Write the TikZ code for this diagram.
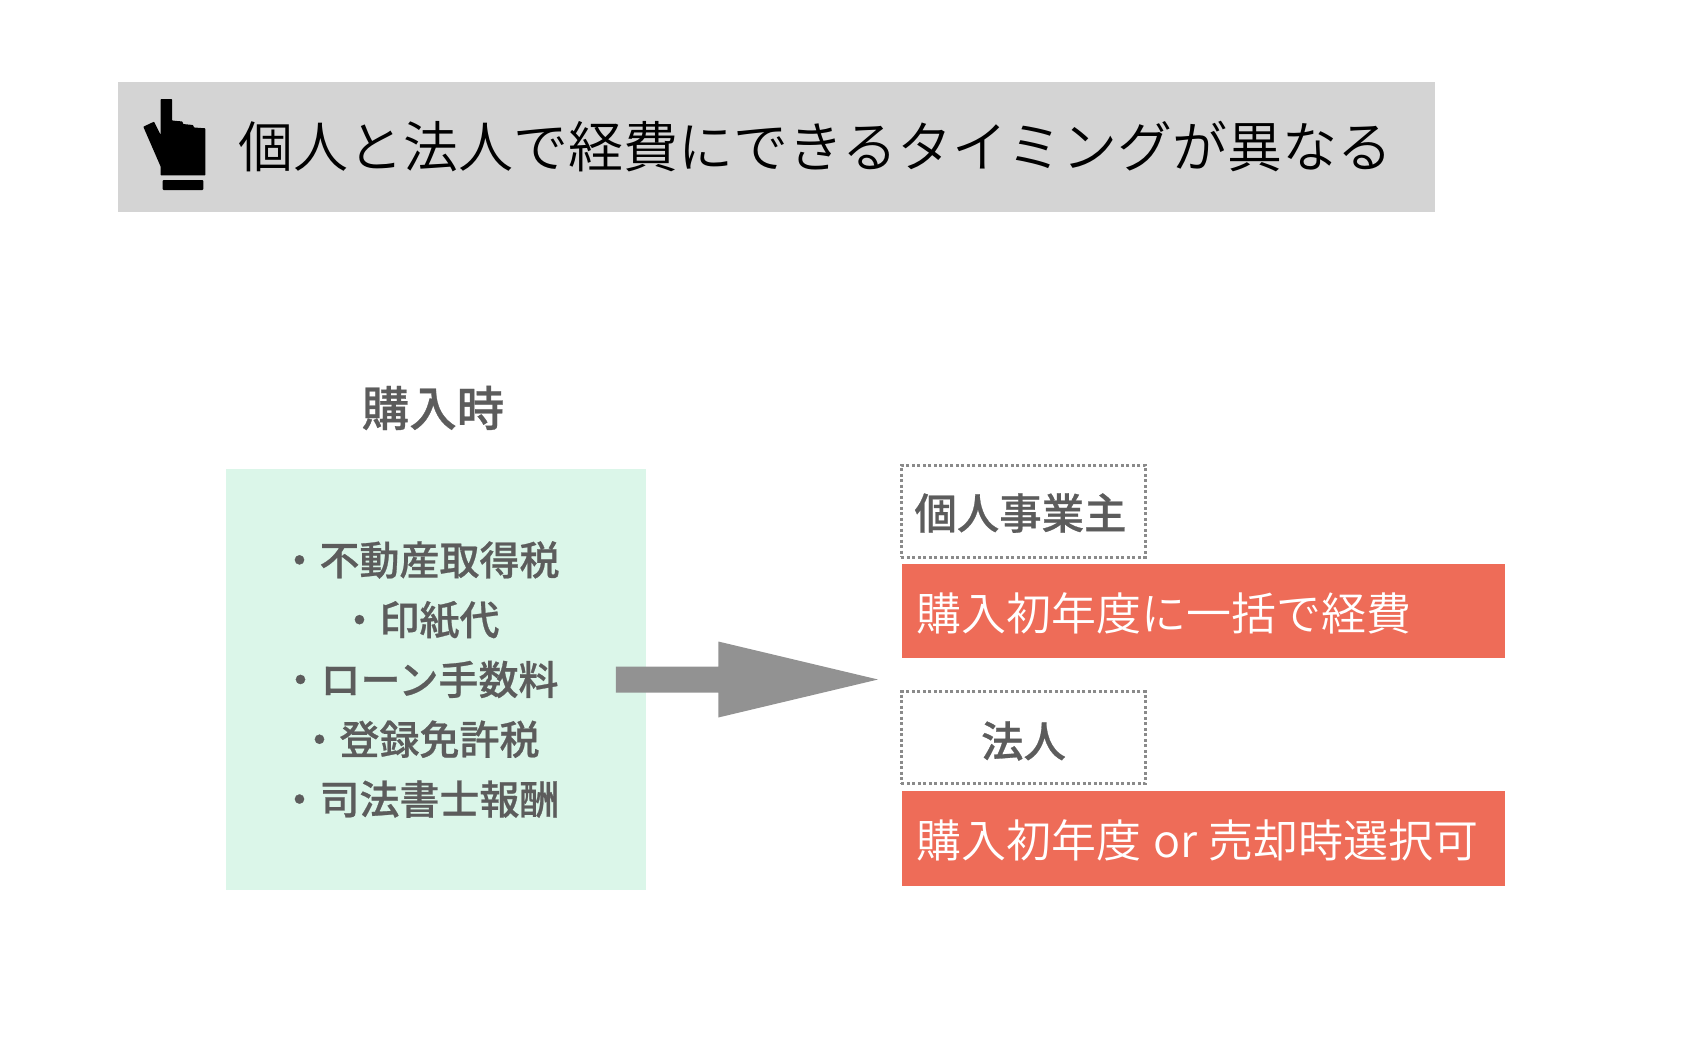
\documentclass[tikz,border=0pt]{standalone}
\usepackage{fontspec}
\setmainfont{Noto Sans CJK JP}
\newfontfamily\lightcjk{Noto Sans CJK JP DemiLight}
\newfontfamily\medcjk{Noto Sans CJK JP Medium}[FakeBold=0.6]
\definecolor{barcol}{HTML}{D4D4D4}
\definecolor{greencol}{HTML}{DBF6E9}
\definecolor{redcol}{HTML}{EE6C58}
\definecolor{arrowcol}{HTML}{929292}
\definecolor{dotcol}{HTML}{8A8A8A}
\definecolor{textcol}{HTML}{5C5C5C}
\tikzset{
  dotbox/.style={draw=dotcol,line width=3pt,dash pattern=on 3pt off 2.5pt,fill=white,inner sep=0pt,outer sep=0pt,minimum width=244pt,minimum height=92pt},
  redbox/.style={fill=redcol,inner sep=0pt,minimum width=603pt,minimum height=94.5pt},
  lbl/.style={text=textcol,font=\medcjk\fontsize{#1}{#1}\selectfont,inner sep=0pt},
  redtxt/.style={text=white,font=\lightcjk\fontsize{45}{45}\selectfont,inner sep=0pt,anchor=west},
}
\begin{document}
\begin{tikzpicture}[x=1pt,y=-1pt]
\useasboundingbox (0,0) rectangle (1684,1044);
\node[fill=barcol,inner sep=0pt,minimum width=1317pt,minimum height=130pt] (bar) at (776,147) {};
\fill[black,rounded corners=0.6pt] (160.7,99) -- (172,99) -- (172,120.5) -- (182.5,121.5) -- (183,124) -- (193,125) -- (194,127.5) -- (205.3,128.3) -- (205.3,175.3) -- (160.7,175.3) -- (160.7,166.7) -- (143.3,126.7) -- (154,121.7) -- (160.7,135) -- cycle;
\fill[black,rounded corners=1pt] (162.7,180) rectangle (203.3,190);
\node[inner sep=0pt,anchor=west,font=\lightcjk\fontsize{55}{55}\selectfont,text=black] (title) at (238,147) {個人と法人で経費にできるタイミングが異なる};
\node[lbl=47.5] (when) at (433,408) {購入時};
\node[fill=greencol,inner sep=0pt,minimum width=420pt,minimum height=421pt] (list) at (436,679) {};
\node[align=center,text width=420pt,text=textcol,inner sep=0pt,font=\medcjk\fontsize{40}{59.8}\selectfont] (items) at (419.5,679.5) {・不動産取得税\\・印紙代\\・ローン手数料\\・登録免許税\\・司法書士報酬};
\coordinate (tail) at (615.8,679.5);
\coordinate (tip) at (878,679.5);
\fill[arrowcol] (tail) ++(0,-13) -- ++(102.5,0) -- ++(0,-25) -- (tip) -- ++(-159.7,38) -- ++(0,-25) -- ++(-102.5,0) -- cycle;
\node[dotbox] (kojin) at (1023.3,511) {};
\node[lbl=42.4] (kojinlabel) at (1020.5,513) {個人事業主};
\node[redbox] (r1) at (1203,611) {};
\node[redtxt] (r1label) at (916.5,613.8) {購入初年度に一括で経費};
\node[dotbox] (hojin) at (1023.3,737.5) {};
\node[lbl=42.4] (hojinlabel) at (1023.5,741) {法人};
\node[redbox] (r2) at (1203,838.5) {};
\node[redtxt] (r2label) at (916.5,840.7) {購入初年度\hspace{2pt} or\hspace{1pt} 売却時選択可};
\end{tikzpicture}
\end{document}
